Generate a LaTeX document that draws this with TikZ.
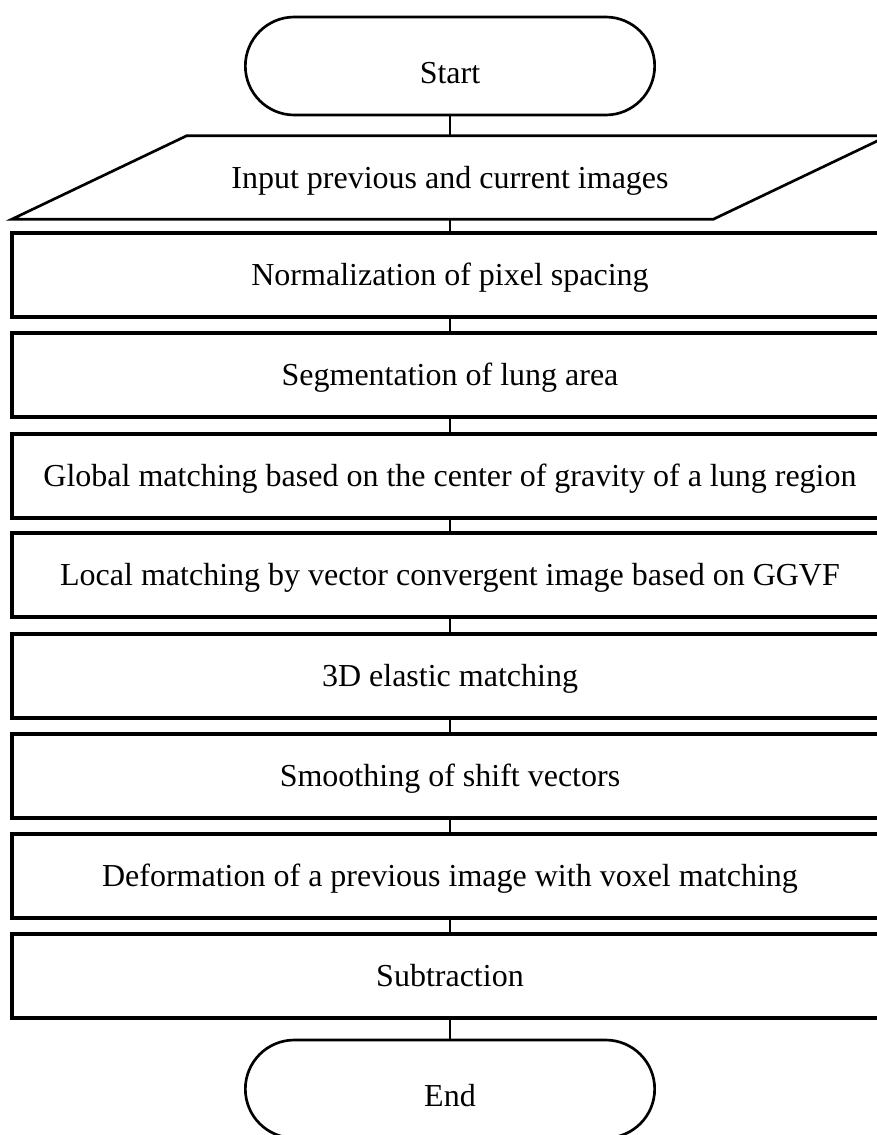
\documentclass[tikz,border=0pt]{standalone}
\usepackage{fontspec}
\setmainfont{Liberation Serif}
\usetikzlibrary{shapes.misc,calc}
\begin{document}
\begin{tikzpicture}[x=0.75pt,y=-0.75pt,
  every node/.style={font=\fontsize{24}{28}\selectfont, inner sep=0pt},
  terminal/.style={rounded rectangle, draw, line width=2pt,
    minimum width=307pt, minimum height=73.5pt,
    text height=26.25pt, text depth=0pt},
  process/.style={rectangle, draw, line width=2.4pt,
    minimum width=657pt, minimum height=63pt,
    text height=15.75pt, text depth=0pt},
  iobox/.style={rectangle, minimum width=657pt, minimum height=62.25pt,
    text height=15.75pt, text depth=0pt},
  link/.style={line width=0.8pt}]
\useasboundingbox (0,0) rectangle (877,1135);
\clip (0,0) rectangle (877,1135);

% terminals
\node[terminal] (start) at (450,66) {Start};
\node[terminal] (end)   at (450,1089) {End};

% input / output step (parallelogram drawn around an invisible box)
\node[iobox] (input) at (450,177.5) {Input previous and current images};
\draw[line width=2pt, line join=miter]
  (input.south west) -- ($(input.north west)+(175,0)$) -- (input.north east)
  -- ($(input.south east)+(-175,0)$) -- cycle;

% processing steps
\node[process] (norm)   at (450,275) {Normalization of pixel spacing};
\node[process] (seg)    at (450,375) {Segmentation of lung area};
\node[process] (global) at (450,476) {Global matching based on the center of gravity of a lung region};
\node[process] (local)  at (450,575) {Local matching by vector convergent image based on GGVF};
\node[process] (elast)  at (450,676) {3D elastic matching};
\node[process] (smooth) at (450,776) {Smoothing of shift vectors};
\node[process] (deform) at (450,876) {Deformation of a previous image with voxel matching};
\node[process] (subtr)  at (450,976) {Subtraction};

% connectors
\draw[link] (start.south)  -- (input.north);
\draw[link] (input.south)  -- (norm.north);
\draw[link] (norm.south)   -- (seg.north);
\draw[link] (seg.south)    -- (global.north);
\draw[link] (global.south) -- (local.north);
\draw[link] (local.south)  -- (elast.north);
\draw[link] (elast.south)  -- (smooth.north);
\draw[link] (smooth.south) -- (deform.north);
\draw[link] (deform.south) -- (subtr.north);
\draw[link] (subtr.south)  -- (end.north);
\end{tikzpicture}
\end{document}
